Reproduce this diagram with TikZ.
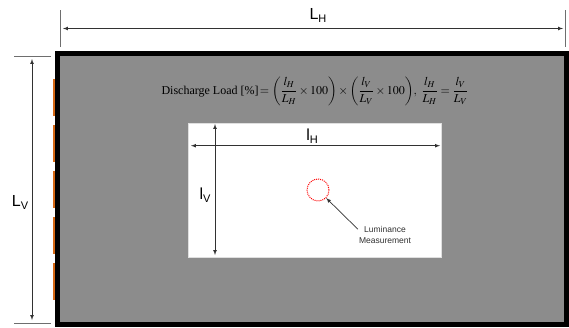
\documentclass[tikz,border=0pt]{standalone}
\usepackage{amsmath}
\usepackage{mathptmx}
\usepackage{fontspec}
\setmainfont{Liberation Serif}
\newfontfamily\arialfont{Liberation Sans}
\definecolor{wallgray}{RGB}{140,140,140}
\definecolor{lamporange}{RGB}{214,104,20}
\definecolor{dimgray}{RGB}{50,50,50}
\definecolor{extgray}{RGB}{110,110,110}
\newcommand{\dimlabel}[2]{{\arialfont\fontsize{16}{18}\selectfont #1\raisebox{-3pt}{\fontsize{11}{12}\selectfont #2}}}
\begin{document}
\begin{tikzpicture}[x=1pt,y=-1pt,
    dimarrow/.style={draw=dimgray,line width=0.7pt,latex-latex},
    extline/.style={draw=extgray,line width=0.7pt},
    lbl/.style={inner sep=0pt}]
            \useasboundingbox (0,0) rectangle (569,327);
            % wall and lamps
            \draw[line width=5pt,fill=wallgray] (57.5,53.5) rectangle (566.5,324.5);
            \foreach \k in {0,...,4}
                {\fill[lamporange] (53.3,{79+46*\k}) rectangle (55.3,{116+46*\k});}
            % extension lines
            \draw[extline] (60,10)--(60,47);
            \draw[extline] (565,10)--(565,47);
            \draw[extline] (14,56)--(51,56);
            \draw[extline] (14,323)--(51,323);
            % outer dimensions
            \coordinate (LHa) at (63,28.5);
            \coordinate (LHb) at (563,28.5);
            \coordinate (LVa) at (32,59);
            \coordinate (LVb) at (32,320);
            \draw[dimarrow] (LHa)--(LHb);
            \draw[dimarrow] (LVa)--(LVb);
            \node[lbl] (LH) at (318,15) {\dimlabel{L}{H}};
            \node[lbl] (LV) at (20,202) {\dimlabel{L}{V}};
            % formula
            \node[lbl] (formula) at (315,91) {\fontsize{12}{14}\selectfont
                Discharge Load [\%]$\,=\left(\dfrac{l_H}{L_H}\times 100\right)
                \times\left(\dfrac{l_V}{L_V}\times 100\right)\!,\
                \dfrac{l_H}{L_H}=\dfrac{l_V}{L_V}$};
            % measured area
            \draw[fill=white,draw=gray!25] (188,123) rectangle (441,257);
            \coordinate (lHa) at (191,145.7);
            \coordinate (lHb) at (440,145.7);
            \coordinate (lVa) at (215,124);
            \coordinate (lVb) at (215,255);
            \draw[dimarrow] (lHa)--(lHb);
            \draw[dimarrow] (lVa)--(lVb);
            \node[lbl] (lH) at (312,136) {\dimlabel{l}{H}};
            \node[lbl] (lV) at (205,195) {\dimlabel{l}{V}};
            % luminance point
            \node[circle,draw=red,line width=1pt,dash pattern=on 1pt off 1pt,
                minimum size=22pt,inner sep=0pt] (meas) at (318,190) {};
            \node[align=center,text=dimgray,inner sep=1pt,
                font=\arialfont\fontsize{8.5}{11}\selectfont] (lum) at (385,235)
                {Luminance\\Measurement};
            \draw[draw=dimgray,line width=0.7pt,-latex]
                ([xshift=0pt,yshift=-4pt]lum.north west)--(meas);
\end{tikzpicture}
\end{document}
